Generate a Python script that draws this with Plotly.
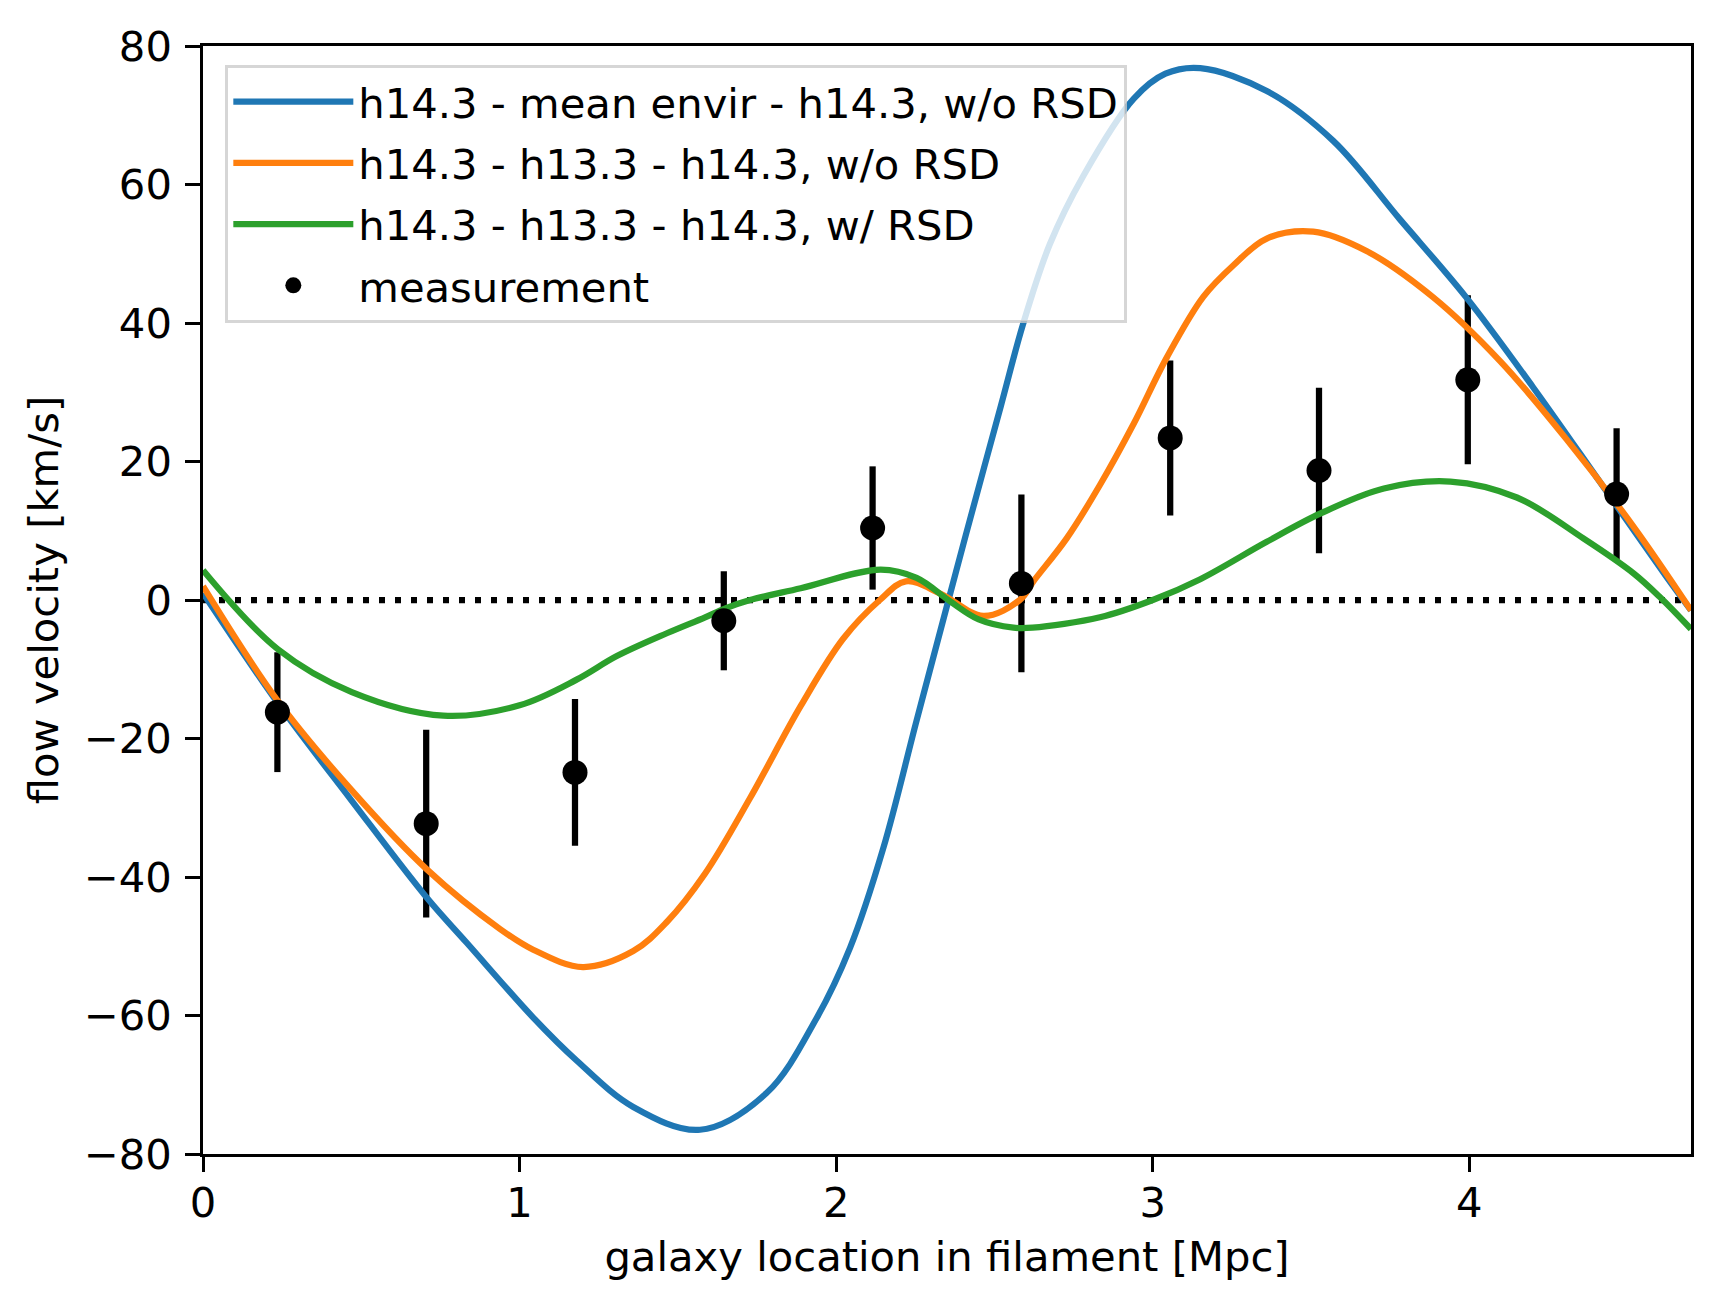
import plotly.graph_objects as go

# ---- data ----
blue_x = [0.0, 0.235, 0.47, 0.707, 0.833, 1.043, 1.18, 1.359, 1.57, 1.78, 1.938, 2.044, 2.149,
          2.254, 2.349, 2.41, 2.52, 2.59, 2.675, 2.78, 2.94, 3.04, 3.15, 3.36, 3.57, 3.78,
          3.99, 4.2, 4.41, 4.62, 4.7]
blue_y = [1.0, -14.8, -29.0, -43.0, -49.5, -60.3, -66.5, -73.2, -76.5, -71.2, -60.4, -50.2, -35.8,
          -17.4, -1.0, 9.5, 28.0, 39.8, 51.4, 61.2, 72.4, 76.0, 76.8, 73.5, 66.3, 55.0,
          43.7, 30.8, 17.2, 3.5, -1.5]

orange_x = [0.0, 0.235, 0.47, 0.707, 0.938, 1.043, 1.2, 1.359, 1.465, 1.586, 1.728, 1.888, 2.022,
            2.138, 2.22, 2.33, 2.465, 2.58, 2.623, 2.728, 2.833, 2.938, 3.044, 3.16, 3.254, 3.36,
            3.507, 3.675, 3.886, 4.097, 4.307, 4.52, 4.7]
orange_y = [2.0, -14.5, -27.5, -38.9, -47.5, -50.5, -53.0, -50.7, -46.5, -39.5, -28.6, -15.3, -5.6,
            0.0, 2.7, 0.9, -2.3, 0.0, 2.7, 8.9, 16.6, 25.3, 35.0, 43.8, 48.3, 52.2,
            53.2, 50.4, 43.7, 34.5, 23.2, 10.5, -1.5]

green_x = [0.0, 0.236, 0.47, 0.759, 1.0, 1.18, 1.307, 1.465, 1.586, 1.65, 1.728, 1.888, 2.14,
           2.254, 2.36, 2.45, 2.56, 2.62, 2.833, 3.0, 3.15, 3.36, 3.53, 3.73, 3.94, 4.15,
           4.36, 4.52, 4.6, 4.7]
green_y = [4.3, -7.1, -13.3, -16.7, -15.2, -11.5, -8.1, -4.8, -2.5, -1.2, 0.0, 1.7, 4.4,
           3.2, -0.2, -2.8, -4.0, -4.0, -2.5, 0.0, 3.0, 8.4, 12.5, 16.1, 17.1, 14.8,
           8.9, 3.8, 0.5, -4.2]

meas_x = [0.235, 0.705, 1.175, 1.645, 2.115, 2.585, 3.055, 3.525, 3.995, 4.465]
meas_y = [-16.2, -32.3, -24.9, -3.0, 10.4, 2.4, 23.4, 18.7, 31.8, 15.3]
meas_err = [8.65, 13.55, 10.6, 7.15, 8.9, 12.85, 11.2, 11.95, 12.2, 9.5]

series_names = ["h14.3 - mean envir - h14.3, w/o RSD",
                "h14.3 - h13.3 - h14.3, w/o RSD",
                "h14.3 - h13.3 - h14.3, w/ RSD",
                "measurement"]
series_colors = ["#1f77b4", "#ff7f0e", "#2ca02c", "black"]

x_tickvals = [0, 1, 2, 3, 4]
x_ticktext = ["0", "1", "2", "3", "4"]
y_tickvals = [-80, -60, -40, -20, 0, 20, 40, 60, 80]
y_ticktext = ["\u221280", "\u221260", "\u221240", "\u221220", "0", "20", "40", "60", "80"]

x_range = [0, 4.7]
y_range = [-80, 80]
zero_level = 0

FONT = "DejaVu Sans"
FS = 41.7
LW = 6.25

fig = go.Figure()

# error bars drawn beneath the curves (as in matplotlib)
fig.add_trace(go.Scatter(
    x=meas_x, y=meas_y, mode="markers",
    marker=dict(size=1, color="rgba(0,0,0,0)"),
    error_y=dict(type="data", array=meas_err, visible=True, color="black",
                 thickness=LW, width=0),
    showlegend=False, hoverinfo="skip"))

for xs, ys, name, col, rank in [(blue_x, blue_y, series_names[0], series_colors[0], 1),
                                (orange_x, orange_y, series_names[1], series_colors[1], 2),
                                (green_x, green_y, series_names[2], series_colors[2], 3)]:
    fig.add_trace(go.Scatter(
        x=xs, y=ys, mode="lines", name=name, legendrank=rank, legendgroup=name,
        line=dict(color=col, width=LW, shape="spline", smoothing=1.0)))

# measurement markers on top
fig.add_trace(go.Scatter(
    x=meas_x, y=meas_y, mode="markers", name=series_names[3], legendrank=4,
    legendgroup=series_names[3],
    marker=dict(size=25, color=series_colors[3], line=dict(width=0)),
    error_y=dict(type="data", array=[0] * len(meas_x), visible=True, color="black",
                 thickness=LW, width=0)))

fig.add_hline(y=zero_level, line=dict(color="black", width=LW, dash="6px,10px"), layer="below")

axis_common = dict(
    showline=True, linecolor="black", linewidth=3.3, mirror=True,
    ticks="outside", ticklen=14.6, tickwidth=3.3, tickcolor="black",
    showgrid=False, zeroline=False,
    tickfont=dict(family=FONT, size=FS, color="black"),
)

fig.update_layout(
    width=1721, height=1310,
    margin=dict(l=203, r=30, t=46, b=156, pad=0),
    paper_bgcolor="white", plot_bgcolor="white",
    font=dict(family=FONT, size=FS, color="black"),
    xaxis=dict(range=x_range, tickvals=x_tickvals, ticktext=x_ticktext,
               ticklabelstandoff=-5,
               title=dict(text="galaxy location in filament [Mpc]", standoff=17,
                          font=dict(family=FONT, size=FS, color="black")),
               **axis_common),
    yaxis=dict(range=y_range, tickvals=y_tickvals, ticktext=y_ticktext,
               ticklabelstandoff=5,
               title=dict(text="flow velocity [km/s]", standoff=13,
                          font=dict(family=FONT, size=FS, color="black")),
               **axis_common),
    legend=dict(x=0.0148, y=0.983, xanchor="left", yanchor="top",
                bgcolor="rgba(255,255,255,0.8)", bordercolor="rgba(204,204,204,0.8)",
                borderwidth=3.3, font=dict(family=FONT, size=FS, color="black"),
                itemwidth=120, traceorder="grouped", tracegroupgap=4),
    showlegend=True,
)

fig.write_html("out.html")
